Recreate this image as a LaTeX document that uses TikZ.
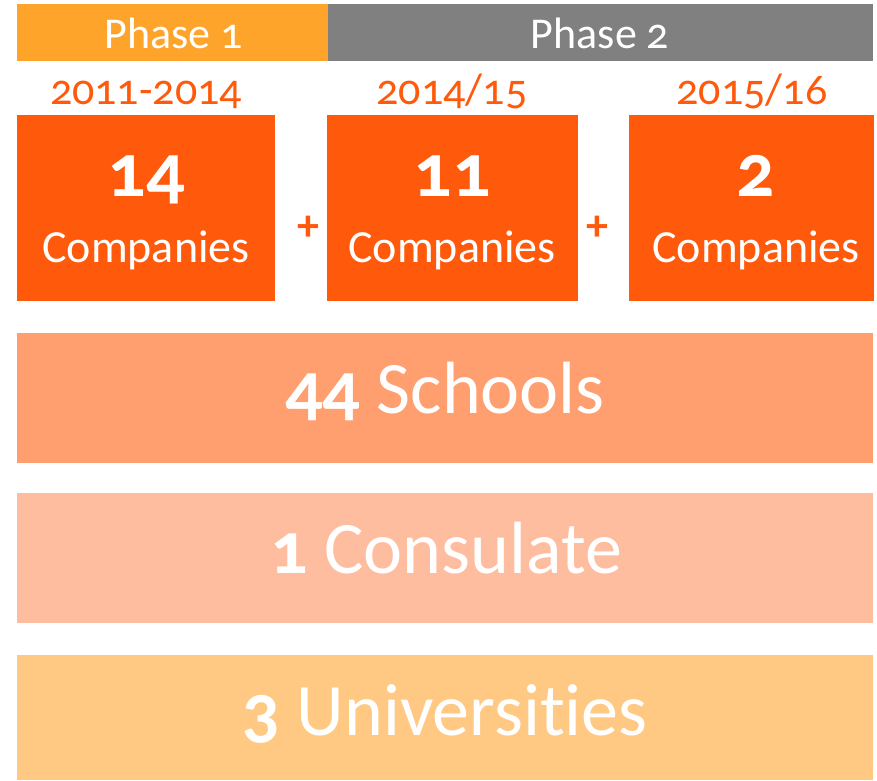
\documentclass[tikz,border=0pt]{standalone}
\usepackage{fontspec}
\setmainfont[Numbers=OldStyle,Ligatures={NoCommon,NoRare,NoDiscretionary}]{Carlito}
\definecolor{phaseone}{HTML}{FFA42B}
\definecolor{phasetwo}{HTML}{808080}
\definecolor{compbox}{HTML}{FF5A0C}
\definecolor{schoolbox}{HTML}{FF9E6E}
\definecolor{consbox}{HTML}{FFBDA0}
\definecolor{unibox}{HTML}{FFC983}
\begin{document}
\begin{tikzpicture}[x=1pt,y=-1pt,
  box/.style={inner sep=0pt,outer sep=0pt,anchor=north west,draw=none},
  lbl/.style={anchor=base,inner sep=0pt,outer sep=0pt,text=white},
  yearlbl/.style={anchor=base,inner sep=0pt,text=compbox,font=\fontsize{44}{44}\selectfont},
  phaselbl/.style={lbl,font=\fontsize{44}{44}\selectfont},
  numlbl/.style={lbl,font=\fontsize{76}{76}\selectfont\bfseries},
  complbl/.style={lbl,font=\fontsize{46}{46}\selectfont},
  biglbl/.style={lbl,font=\fontsize{74}{74}\selectfont},
  pluslbl/.style={anchor=center,inner sep=0pt,text=compbox,font=\fontsize{44}{44}\selectfont\bfseries}]
\useasboundingbox[fill=white] (0,0) rectangle (877,780);
% phase bars
\node[box,fill=phaseone,minimum width=311pt,minimum height=57pt] (p1) at (17,4) {};
\node[box,fill=phasetwo,minimum width=545pt,minimum height=57pt] (p2) at (328,4) {};
\node[phaselbl] (p1t) at (174,48) {Phase 1};
\node[phaselbl] (p2t) at (600,48) {Phase 2};
% years
\node[yearlbl] (y1) at (146,104) {2011-2014};
\node[yearlbl] (y2) at (452,104) {2014/15};
\node[yearlbl] (y3) at (752,104) {2015/16};
% company boxes
\node[box,fill=compbox,minimum width=258pt,minimum height=186pt] (c1) at (17,115) {};
\node[box,fill=compbox,minimum width=251pt,minimum height=186pt] (c2) at (327,115) {};
\node[box,fill=compbox,minimum width=245pt,minimum height=186pt] (c3) at (629,115) {};
\node[numlbl] (n1) at (146,196) {14};
\node[numlbl] (n2) at (452,196) {11};
\node[numlbl] (n3) at (756,196) {2};
\node[complbl] (t1) at (146,262) {Companies};
\node[complbl] (t2) at (452,262) {Companies};
\node[complbl] (t3) at (756,262) {Companies};
\node[pluslbl] (plus1) at (308,228) {+};
\node[pluslbl] (plus2) at (597,228) {+};
% wide boxes
\node[box,fill=schoolbox,minimum width=856pt,minimum height=130pt] (sb) at (17,333) {};
\node[box,fill=consbox,minimum width=856pt,minimum height=130pt] (cb) at (17,493) {};
\node[box,fill=unibox,minimum width=856pt,minimum height=125pt] (ub) at (17,655) {};
\node[biglbl] (st) at (445,413) {{\bfseries 44} Schools};
\node[biglbl] (ct) at (446,573) {{\bfseries 1} Consulate};
\node[biglbl] (ut) at (445,735) {{\bfseries 3} Universities};
\end{tikzpicture}
\end{document}
